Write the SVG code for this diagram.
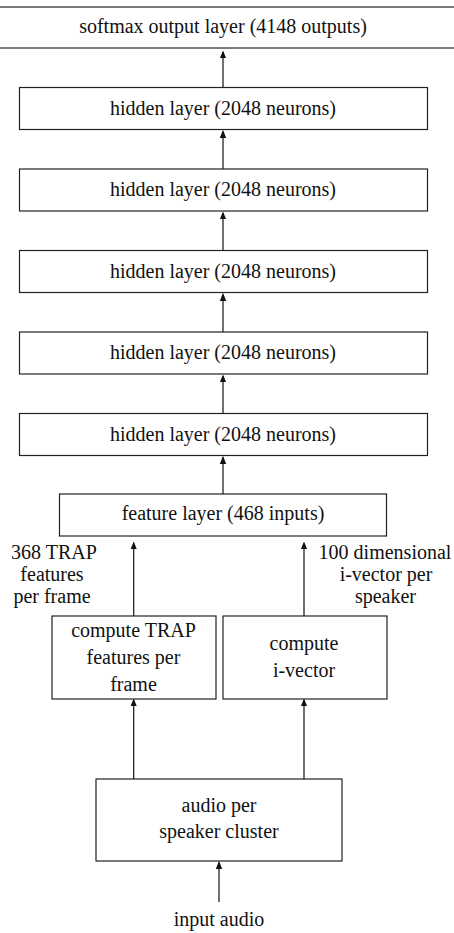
<svg xmlns="http://www.w3.org/2000/svg" width="454" height="933" viewBox="0 0 454 933">
<style>
.box{fill:#fff;stroke:#222;stroke-width:1.2}
.t{font-family:"Liberation Serif","Times New Roman",serif;font-size:20px;fill:#111;text-anchor:middle}
.c{stroke:#111;stroke-width:1.2;fill:none}
</style>
<defs>
<marker id="ah" markerWidth="8" markerHeight="10" refX="8" refY="4" orient="auto" markerUnits="userSpaceOnUse" viewBox="0 0 10 8">
<path d="M0,0 L10,4 L0,8 z" fill="#111"/>
</marker>
</defs>
<rect width="454" height="933" fill="#fff"/>
<g id="softmax"><rect class="box" x="-5" y="7" width="464" height="41"/><text class="t" x="223" y="33">softmax output layer (4148 outputs)</text></g>
<g id="hidden1"><rect class="box" x="19.5" y="87.5" width="408" height="42"/><text class="t" x="223" y="114.5">hidden layer (2048 neurons)</text></g>
<g id="hidden2"><rect class="box" x="19.5" y="169" width="408" height="42"/><text class="t" x="223" y="196">hidden layer (2048 neurons)</text></g>
<g id="hidden3"><rect class="box" x="19.5" y="250.5" width="408" height="42"/><text class="t" x="223" y="277.5">hidden layer (2048 neurons)</text></g>
<g id="hidden4"><rect class="box" x="19.5" y="332" width="408" height="42"/><text class="t" x="223" y="359">hidden layer (2048 neurons)</text></g>
<g id="hidden5"><rect class="box" x="19.5" y="413.5" width="408" height="42"/><text class="t" x="223" y="440.5">hidden layer (2048 neurons)</text></g>
<g id="feature"><rect class="box" x="59.5" y="494" width="327" height="42"/><text class="t" x="223" y="520">feature layer (468 inputs)</text></g>
<g id="trap-label"><text class="t" x="54" y="559">368 TRAP</text><text class="t" x="52" y="581">features</text><text class="t" x="52" y="603">per frame</text></g>
<g id="ivec-label"><text class="t" x="385" y="559">100 dimensional</text><text class="t" x="386" y="581">i-vector per</text><text class="t" x="385.5" y="603">speaker</text></g>
<g id="compute-trap"><rect class="box" x="52" y="616" width="164" height="83"/><text class="t" x="133.5" y="637">compute TRAP</text><text class="t" x="133.5" y="664">features per</text><text class="t" x="133.5" y="690.5">frame</text></g>
<g id="compute-ivec"><rect class="box" x="223" y="616" width="164" height="83"/><text class="t" x="304" y="650">compute</text><text class="t" x="304" y="676.5">i-vector</text></g>
<g id="audio"><rect class="box" x="96" y="779" width="246" height="82"/><text class="t" x="219" y="811.5">audio per</text><text class="t" x="219" y="838">speaker cluster</text></g>
<g id="input-label"><text class="t" x="219" y="926">input audio</text></g>
<g id="connectors">
<line class="c" x1="223" y1="87.5" x2="223" y2="52" marker-end="url(#ah)"/>
<line class="c" x1="223" y1="169" x2="223" y2="131.5" marker-end="url(#ah)"/>
<line class="c" x1="223" y1="250.5" x2="223" y2="213" marker-end="url(#ah)"/>
<line class="c" x1="223" y1="332" x2="223" y2="294.5" marker-end="url(#ah)"/>
<line class="c" x1="223" y1="413.5" x2="223" y2="376" marker-end="url(#ah)"/>
<line class="c" x1="223" y1="494" x2="223" y2="457.5" marker-end="url(#ah)"/>
<line class="c" x1="133.7" y1="616" x2="133.7" y2="543" marker-end="url(#ah)"/>
<line class="c" x1="304" y1="616" x2="304" y2="543" marker-end="url(#ah)"/>
<line class="c" x1="133.7" y1="779" x2="133.7" y2="700" marker-end="url(#ah)"/>
<line class="c" x1="304" y1="779" x2="304" y2="700" marker-end="url(#ah)"/>
<line class="c" x1="219" y1="902" x2="219" y2="862.5" marker-end="url(#ah)"/>
</g>
</svg>
